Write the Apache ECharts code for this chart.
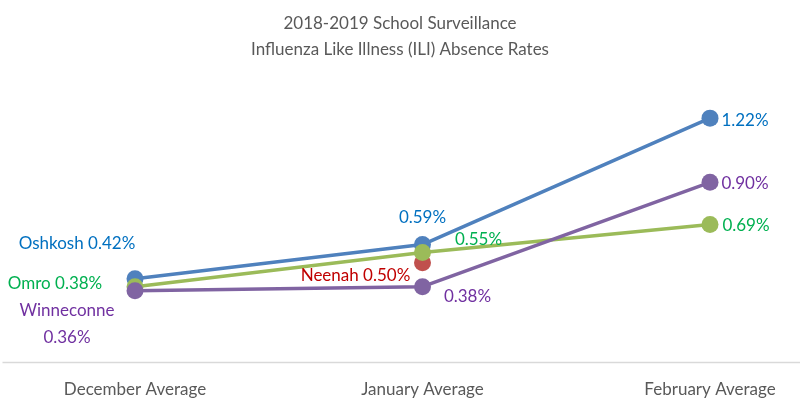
<!DOCTYPE html>
<html><head><meta charset="utf-8">
<script src="https://cdn.jsdelivr.net/npm/echarts@6/dist/echarts.min.js"></script>
<style>html,body{margin:0;padding:0;background:#fff}#c{width:800px;height:398px}</style>
</head><body><div id="c"></div>
<script>
const categories = ['December Average', 'January Average', 'February Average'];
const oshkosh = [0.42, 0.59, 1.22];
const omro = [0.38, 0.55, 0.69];
const winneconne = [0.36, 0.38, 0.90];
const neenah = [null, 0.50, null];
const titleLines = ['2018-2019 School Surveillance', 'Influenza Like Illness (ILI) Absence Rates'];

const FONT = 'Lato';
function fmt(v){ return v.toFixed(2) + '%'; }
function mk(name, values, lineColor, textColor, offsets, prefixes){
  return {
    name, type: 'line', data: values.map((v, i) => v == null ? null : {
      value: v,
      label: {
        show: true, position: 'inside', offset: offsets[i],
        formatter: (prefixes[i] || '') + fmt(v)
      }
    }),
    symbol: 'circle', symbolSize: 17, showSymbol: true,
    lineStyle: { color: lineColor, width: 3.5 },
    itemStyle: { color: lineColor },
    label: { color: textColor, fontFamily: FONT, fontSize: 17, lineHeight: 27, align: 'center', verticalAlign: 'middle' },
    emphasis: { disabled: true },
    connectNulls: false,
    animation: false
  };
}
const chart = echarts.init(document.getElementById('c'), null, { renderer: 'canvas' });
chart.setOption({
  animation: false,
  title: {
    text: titleLines.join('\n'), left: 'center', top: 6,
    textStyle: { fontFamily: FONT, fontSize: 17, fontWeight: 'normal', color: '#595959', lineHeight: 26 }
  },
  grid: { left: 135, right: 90, top: 82, bottom: 34 },
  graphic: [{
    type: 'line', left: 0, bottom: 33, z: 0,
    shape: { x1: 0, y1: 0, x2: 800, y2: 0 },
    style: { stroke: '#d9d9d9', lineWidth: 1.5 }
  }],
  xAxis: {
    type: 'category', data: categories, boundaryGap: false,
    axisLine: { show: false },
    axisTick: { show: false },
    axisLabel: { fontFamily: FONT, fontSize: 17, color: '#595959', margin: 18 }
  },
  yAxis: { type: 'value', min: 0, max: 1.4, show: false, splitLine: { show: false } },
  series: [
    mk('Neenah', neenah, '#C0504D', '#C00000', [null, [-67, 13], null], ['', 'Neenah ', '']),
    mk('Oshkosh', oshkosh, '#4F81BD', '#0070C0', [[-58, -35], [0, -27], [35, 2]], ['Oshkosh ', '', '']),
    mk('Omro', omro, '#9BBB59', '#00B050', [[-80, -3], [56, -13], [36, 1]], ['Omro ', '', '']),
    mk('Winneconne', winneconne, '#8064A2', '#7030A0', [[-68, 33], [45, 10], [35, 1]], ['Winneconne\n', '', ''])
  ]
});
</script></body></html>
